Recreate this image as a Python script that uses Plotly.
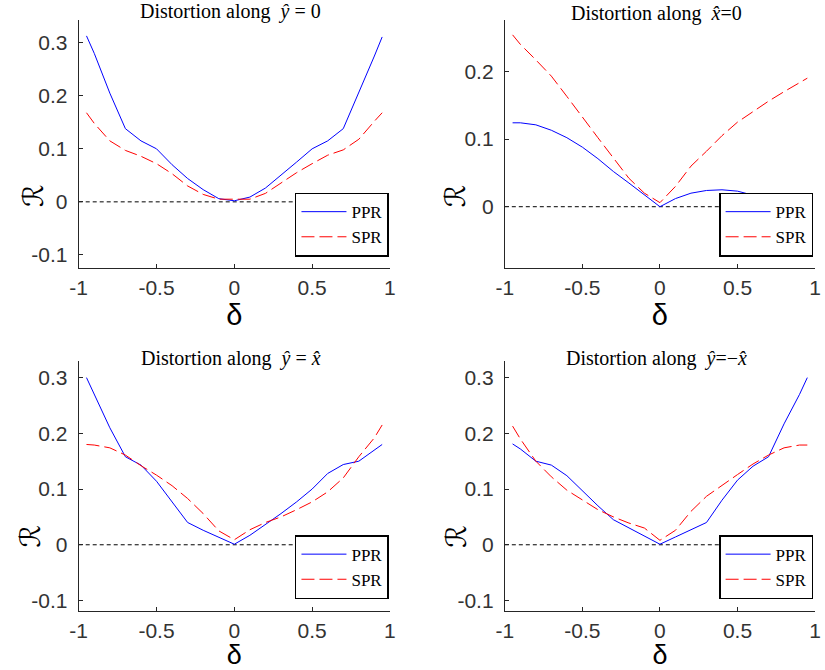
import plotly.graph_objects as go

W, H = 825, 670

delta = [-0.95, -0.9, -0.8, -0.7, -0.6, -0.5, -0.4, -0.3, -0.2, -0.1, 0.0,
         0.1, 0.2, 0.3, 0.4, 0.5, 0.6, 0.7, 0.8, 0.9, 0.95]

# Distortion along y = 0
ppr_y0 = [0.313, 0.280, 0.205, 0.138, 0.115, 0.100, 0.070, 0.044, 0.023, 0.006, 0.002,
          0.009, 0.026, 0.050, 0.075, 0.100, 0.115, 0.138, 0.205, 0.275, 0.311]
spr_y0 = [0.168, 0.148, 0.115, 0.097, 0.086, 0.072, 0.053, 0.030, 0.014, 0.005, 0.005,
          0.005, 0.016, 0.036, 0.055, 0.072, 0.088, 0.098, 0.118, 0.152, 0.168]

# Distortion along x = 0
ppr_x0 = [0.124, 0.124, 0.121, 0.113, 0.102, 0.088, 0.071, 0.052, 0.035, 0.017, 0.000,
          0.012, 0.020, 0.024, 0.025, 0.023, 0.017, 0.008, 0.001, 0.004, 0.008]
spr_x0 = [0.254, 0.240, 0.217, 0.193, 0.163, 0.132, 0.102, 0.072, 0.042, 0.020, 0.006,
          0.030, 0.060, 0.082, 0.105, 0.125, 0.141, 0.156, 0.170, 0.184, 0.190]

# Distortion along y = x
ppr_yx = [0.300, 0.270, 0.210, 0.158, 0.143, 0.114, 0.077, 0.040, 0.026, 0.014, 0.001,
          0.017, 0.036, 0.056, 0.077, 0.100, 0.128, 0.144, 0.150, 0.170, 0.180]
spr_yx = [0.180, 0.179, 0.174, 0.161, 0.142, 0.125, 0.106, 0.083, 0.056, 0.025, 0.009,
          0.027, 0.040, 0.050, 0.063, 0.077, 0.095, 0.120, 0.158, 0.192, 0.215]

# Distortion along y = -x
ppr_ymx = [0.181, 0.172, 0.150, 0.143, 0.124, 0.097, 0.070, 0.045, 0.030, 0.015, 0.001,
           0.014, 0.027, 0.040, 0.080, 0.116, 0.141, 0.158, 0.217, 0.270, 0.300]
spr_ymx = [0.213, 0.190, 0.150, 0.122, 0.098, 0.080, 0.063, 0.050, 0.039, 0.030, 0.008,
           0.026, 0.060, 0.087, 0.107, 0.126, 0.145, 0.161, 0.174, 0.179, 0.179]

titles = ["Distortion along&nbsp;&nbsp;<i>ŷ</i> = 0",
          "Distortion along&nbsp;&nbsp;<i>x̂</i>=0",
          "Distortion along&nbsp;&nbsp;<i>ŷ</i> = <i>x̂</i>",
          "Distortion along&nbsp;&nbsp;<i>ŷ</i>=−<i>x̂</i>"]

xtick_vals = [-1, -0.5, 0, 0.5, 1]
xtick_text = ["-1", "-0.5", "0", "0.5", "1"]
ytick_vals_a = [-0.1, 0, 0.1, 0.2, 0.3]
ytick_text_a = ["-0.1", "0", "0.1", "0.2", "0.3"]
ytick_vals_b = [0, 0.1, 0.2]
ytick_text_b = ["0", "0.1", "0.2"]

panels = [
    dict(ppr=ppr_y0, spr=spr_y0, title=titles[0],
         xpx=(71, 388), ypx=(20, 268), yrange=[-0.124, 0.343],
         yt=(ytick_vals_a, ytick_text_a), leg=(387, 257), r=(25, 197), t=(226, 12),
         dsize=29, dstand=1),
    dict(ppr=ppr_x0, spr=spr_x0, title=titles[1],
         xpx=(505, 821), ypx=(20, 268), yrange=[-0.09, 0.276],
         yt=(ytick_vals_b, ytick_text_b), leg=(819, 257), r=(455, 197), t=(659, 14),
         dsize=29, dstand=1),
    dict(ppr=ppr_yx, spr=spr_yx, title=titles[2],
         xpx=(71, 388), ypx=(362, 612), yrange=[-0.119, 0.329],
         yt=(ytick_vals_a, ytick_text_a), leg=(387, 600), r=(22, 538), t=(226, 359),
         dsize=27, dstand=5),
    dict(ppr=ppr_ymx, spr=spr_ymx, title=titles[3],
         xpx=(505, 821), ypx=(362, 612), yrange=[-0.119, 0.329],
         yt=(ytick_vals_a, ytick_text_a), leg=(819, 600), r=(455, 538), t=(659, 359),
         dsize=27, dstand=5),
]

fig = go.Figure()
layout = dict(width=W, height=H, margin=dict(l=0, r=0, t=0, b=0),
              paper_bgcolor="white", plot_bgcolor="white", annotations=[])

axis_color = "#262626"
tickfont = dict(family="Liberation Sans, Arial, sans-serif", size=21, color="#333333")

for i, p in enumerate(panels):
    n = "" if i == 0 else str(i + 1)
    xa, ya, lg = "x" + n, "y" + n, "legend" + n
    fig.add_trace(go.Scatter(x=[-1, 0.95], y=[0, 0], xaxis=xa, yaxis=ya, mode="lines",
                             line=dict(color="black", width=1, dash="4px,3px"),
                             showlegend=False, hoverinfo="skip"))
    fig.add_trace(go.Scatter(x=delta, y=p["ppr"], name="PPR", xaxis=xa, yaxis=ya,
                             mode="lines", line=dict(color="#0000FF", width=1),
                             legend=lg))
    fig.add_trace(go.Scatter(x=delta, y=p["spr"], name="SPR", xaxis=xa, yaxis=ya,
                             mode="lines", line=dict(color="#FF0000", width=1, dash="13px,5px"),
                             legend=lg))
    x0, x1 = p["xpx"]
    y0, y1 = p["ypx"]
    layout["xaxis" + n] = dict(
        domain=[x0 / W, x1 / W], anchor=ya, range=[-1, 1],
        tickvals=xtick_vals, ticktext=xtick_text, ticks="inside", ticklen=4,
        tickcolor=axis_color, showline=True, linecolor=axis_color, linewidth=1,
        showgrid=False, zeroline=False, tickfont=tickfont, ticklabelstandoff=1,
        title=dict(text="δ", font=dict(family="Liberation Sans, Arial, sans-serif",
                                       size=p["dsize"], color="black"),
                   standoff=p["dstand"]))
    layout["yaxis" + n] = dict(
        domain=[1 - y1 / H, 1 - y0 / H], anchor=xa, range=p["yrange"],
        tickvals=p["yt"][0], ticktext=p["yt"][1], ticks="inside", ticklen=4,
        tickcolor=axis_color, showline=True, linecolor=axis_color, linewidth=1,
        showgrid=False, zeroline=False, tickfont=tickfont, ticklabelstandoff=6)
    layout[lg] = dict(x=p["leg"][0] / W, y=1 - p["leg"][1] / H, xanchor="right",
                      yanchor="bottom", bordercolor="black", borderwidth=1.5,
                      bgcolor="white", tracegroupgap=0, itemwidth=45,
                      font=dict(family="Liberation Serif, Times New Roman, serif",
                                size=17, color="black"))
    layout["annotations"].append(dict(
        text=p["title"], x=p["t"][0] / W, y=1 - p["t"][1] / H, xref="paper", yref="paper",
        xanchor="center", yanchor="middle", showarrow=False,
        font=dict(family="Liberation Serif, Times New Roman, serif", size=20, color="black")))
    layout["annotations"].append(dict(
        text="ℛ", x=p["r"][0] / W, y=1 - p["r"][1] / H, xref="paper", yref="paper",
        xanchor="center", yanchor="middle", showarrow=False, textangle=-90,
        font=dict(family="DejaVu Serif, DejaVu Sans, serif", size=28, color="black")))

fig.update_layout(**layout)
fig.write_html("out.html")
